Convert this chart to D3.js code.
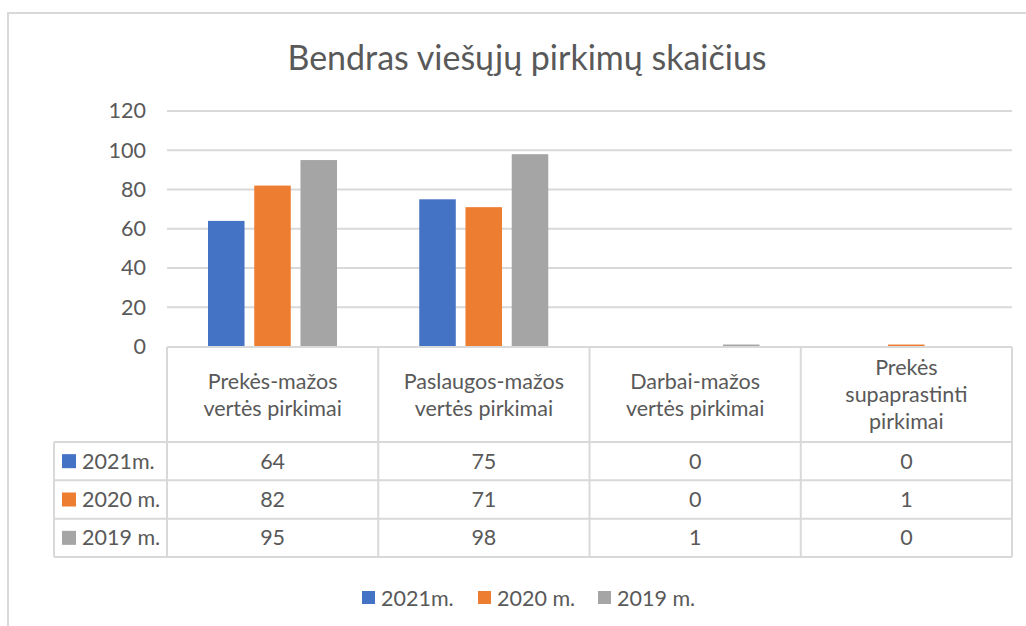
<!DOCTYPE html>
<html>
<head>
<meta charset="utf-8">
<script src="https://cdn.jsdelivr.net/npm/d3@7"></script>
<style>
  body { margin: 0; background: #fff; }
  text { font-family: Lato, "Open Sans", sans-serif; fill: #595959; }
</style>
</head>
<body>
<div id="chart"></div>
<script>
// data
let categories = [
  ["Prekės-mažos", "vertės pirkimai"],
  ["Paslaugos-mažos", "vertės pirkimai"],
  ["Darbai-mažos", "vertės pirkimai"],
  ["Prekės", "supaprastinti", "pirkimai"]
];
let seriesNames = ["2021m.", "2020 m.", "2019 m."];
let values2021 = [64, 75, 0, 0];
let values2020 = [82, 71, 0, 1];
let values2019 = [95, 98, 1, 0];
let yTicks = [0, 20, 40, 60, 80, 100, 120];
let colors = ["#4472C4", "#ED7D31", "#A5A5A5"];

let allValues = [values2021, values2020, values2019];

let W = 1026, H = 626;
let fs = "21.5px";
let svg = d3.select("#chart").append("svg")
  .attr("width", W).attr("height", H);

// outer frame
svg.append("rect")
  .attr("x", 8).attr("y", 13)
  .attr("width", 1030).attr("height", 630)
  .attr("fill", "none").attr("stroke", "#d9d9d9").attr("stroke-width", 2);

// title
svg.append("text")
  .attr("x", 527).attr("y", 70)
  .attr("text-anchor", "middle")
  .style("font-size", "34px")
  .text("Bendras viešųjų pirkimų skaičius");

let plotLeft = 167, plotRight = 1012;

let x0 = d3.scaleBand()
  .domain(d3.range(categories.length))
  .range([plotLeft, plotRight]);

let x1 = d3.scaleBand()
  .domain(d3.range(seriesNames.length))
  .range([41, 170])
  .paddingInner(0.21);

let y = d3.scaleLinear()
  .domain([0, 120])
  .range([346.5, 111]);

// gridlines
svg.append("g")
  .selectAll("line")
  .data(yTicks.filter(d => d > 0))
  .enter().append("line")
  .attr("x1", plotLeft).attr("x2", plotRight)
  .attr("y1", d => y(d)).attr("y2", d => y(d))
  .attr("stroke", "#d9d9d9").attr("stroke-width", 2);

// y axis labels
let yAxis = d3.axisLeft(y).tickValues(yTicks).tickSize(0).tickPadding(0);
let yg = svg.append("g")
  .attr("transform", "translate(146,0)")
  .call(yAxis);
yg.select(".domain").remove();
yg.selectAll("text")
  .style("font-size", fs)
  .attr("font-family", null)
  .attr("fill", null);

// bars
let barData = [];
allValues.forEach((vals, s) => {
  vals.forEach((v, c) => barData.push({s: s, c: c, v: v}));
});

svg.append("g")
  .selectAll("rect")
  .data(barData.filter(d => d.v > 0))
  .enter().append("rect")
  .attr("x", d => x0(d.c) + x1(d.s))
  .attr("y", d => y(d.v))
  .attr("width", x1.bandwidth())
  .attr("height", d => y(0) - y(d.v))
  .attr("fill", d => colors[d.s]);

// data table
let tableTop = 347, headerBottom = 442;
let rowY = d3.scaleBand()
  .domain(d3.range(seriesNames.length))
  .range([headerBottom, 557]);
let labelLeft = 54;

let table = svg.append("g");
let gridColor = "#d9d9d9";

// horizontal lines
table.append("line")
  .attr("x1", plotLeft).attr("x2", plotRight)
  .attr("y1", tableTop).attr("y2", tableTop)
  .attr("stroke", gridColor).attr("stroke-width", 2);
[headerBottom].concat(seriesNames.map((d, i) => rowY(i) + rowY.bandwidth()))
  .forEach(yy => {
    table.append("line")
      .attr("x1", labelLeft).attr("x2", plotRight)
      .attr("y1", yy).attr("y2", yy)
      .attr("stroke", gridColor).attr("stroke-width", 2);
  });

// vertical lines
table.append("line")
  .attr("x1", labelLeft).attr("x2", labelLeft)
  .attr("y1", headerBottom).attr("y2", 557)
  .attr("stroke", gridColor).attr("stroke-width", 2);
categories.forEach((c, i) => {
  table.append("line")
    .attr("x1", x0(i)).attr("x2", x0(i))
    .attr("y1", tableTop).attr("y2", 557)
    .attr("stroke", gridColor).attr("stroke-width", 2);
});
table.append("line")
  .attr("x1", plotRight).attr("x2", plotRight)
  .attr("y1", tableTop).attr("y2", 557)
  .attr("stroke", gridColor).attr("stroke-width", 2);

// header text
let lineH = 27;
categories.forEach((lines, i) => {
  let cx = x0(i) + x0.bandwidth() / 2;
  let midY = (tableTop + headerBottom) / 2;
  let startY = midY - (lines.length - 1) * lineH / 2;
  lines.forEach((ln, j) => {
    table.append("text")
      .attr("x", cx)
      .attr("y", startY + j * lineH)
      .attr("dy", "0.35em")
      .attr("text-anchor", "middle")
      .style("font-size", fs)
      .text(ln);
  });
});

// row labels + values
seriesNames.forEach((name, s) => {
  let cy = rowY(s) + rowY.bandwidth() / 2;
  table.append("rect")
    .attr("x", 62).attr("y", cy - 7)
    .attr("width", 14).attr("height", 14)
    .attr("fill", colors[s]);
  table.append("text")
    .attr("x", 82).attr("y", cy)
    .attr("dy", "0.35em")
    .style("font-size", fs)
    .text(name);
  allValues[s].forEach((v, c) => {
    table.append("text")
      .attr("x", x0(c) + x0.bandwidth() / 2)
      .attr("y", cy)
      .attr("dy", "0.35em")
      .attr("text-anchor", "middle")
      .style("font-size", fs)
      .text(v);
  });
});

// legend
let legendX = [362, 478, 598];
let legend = svg.append("g");
seriesNames.forEach((name, s) => {
  legend.append("rect")
    .attr("x", legendX[s]).attr("y", 591)
    .attr("width", 13).attr("height", 13)
    .attr("fill", colors[s]);
  legend.append("text")
    .attr("x", legendX[s] + 19).attr("y", 598)
    .attr("dy", "0.35em")
    .style("font-size", fs)
    .text(name);
});
</script>
</body>
</html>
